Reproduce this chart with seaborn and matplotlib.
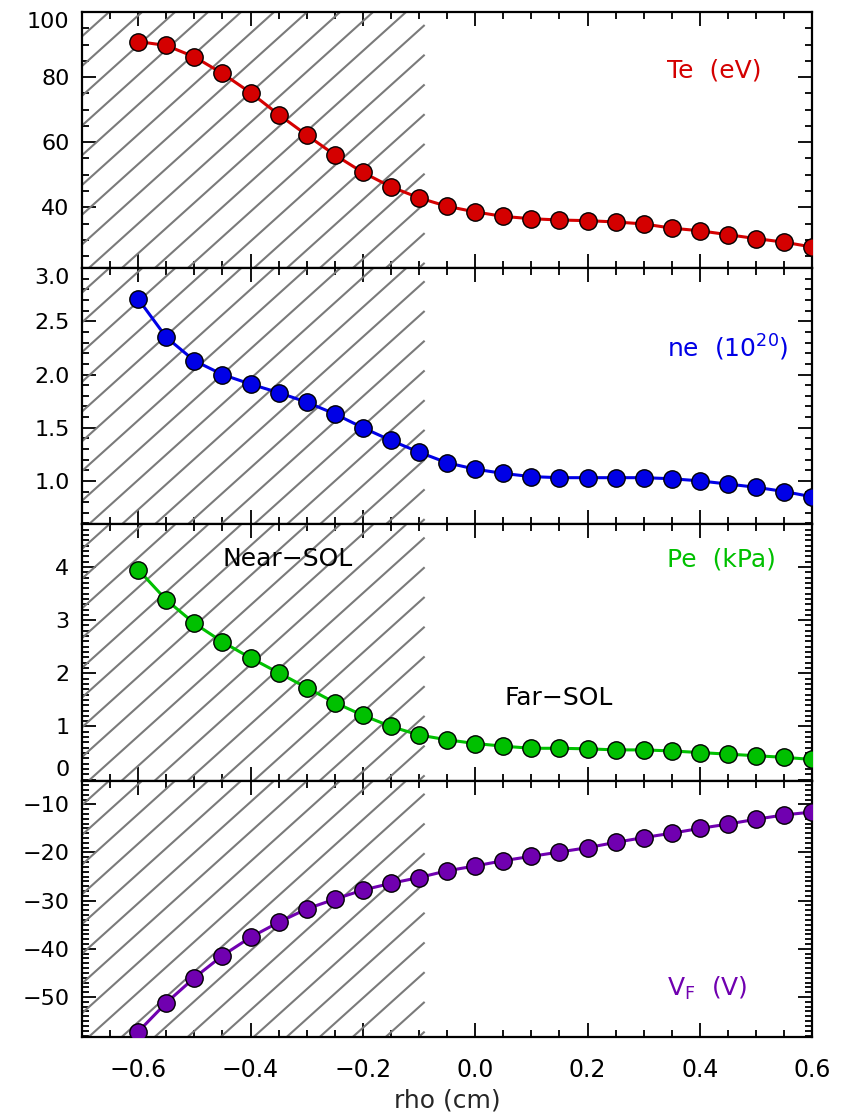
import numpy as np
import matplotlib
matplotlib.use("Agg")
import matplotlib.pyplot as plt
import seaborn as sns
from matplotlib.ticker import MultipleLocator

# data
rho = [-0.60, -0.55, -0.50, -0.45, -0.40, -0.35, -0.30, -0.25, -0.20, -0.15, -0.10,
       -0.05, 0.00, 0.05, 0.10, 0.15, 0.20, 0.25, 0.30, 0.35, 0.40, 0.45, 0.50, 0.55, 0.60]
te = [90.9, 89.7, 86.2, 81.1, 75.2, 68.5, 62.2, 56.1, 50.7, 46.3, 42.9,
      40.3, 38.6, 37.2, 36.5, 36.1, 35.9, 35.5, 34.9, 33.6, 32.8, 31.6, 30.4, 29.3, 27.8]
ne = [2.71, 2.35, 2.13, 2.00, 1.91, 1.83, 1.74, 1.63, 1.50, 1.38, 1.27,
      1.17, 1.11, 1.07, 1.04, 1.03, 1.03, 1.03, 1.03, 1.02, 1.00, 0.97, 0.94, 0.90, 0.85]
pe = [3.95, 3.38, 2.94, 2.59, 2.29, 2.01, 1.73, 1.45, 1.21, 1.00, 0.84,
      0.75, 0.68, 0.63, 0.59, 0.59, 0.58, 0.56, 0.56, 0.54, 0.51, 0.48, 0.45, 0.42, 0.38]
vf = [-57.2, -51.2, -46.0, -41.4, -37.6, -34.5, -31.7, -29.7, -27.8, -26.4, -25.2,
      -23.8, -22.8, -21.7, -20.8, -19.9, -19.0, -17.9, -16.9, -16.0, -15.0, -14.1, -13.1, -12.2, -11.6]

labels = ["Te  (eV)", "ne  (10$^{20}$)", "Pe  (kPa)", "V$_\\mathregular{F}$  (V)"]
colors = ["#d40000", "#0000e6", "#00c000", "#7000b0"]
ylims = [(21.3, 100), (0.59, 3.0), (-0.02, 4.8), (-58.3, -5.1)]
major = [20, 0.5, 1, 10]
minor = [5, 0.1, 0.1, 1]
label_y = [0.773, 0.689, 0.864, 0.191]
series = [te, ne, pe, vf]

# hatched near-SOL band
hatch_x = (-0.7, -0.09)

sns.set_theme(style="ticks")
plt.rcParams["font.family"] = ["DejaVu Sans"]
plt.rcParams["axes.linewidth"] = 1.6

fig, axes = plt.subplots(4, 1, figsize=(8.46, 11.16), dpi=100, sharex=True)
fig.subplots_adjust(left=0.097, right=0.96, top=0.9893, bottom=0.0708, hspace=0)

for i, ax in enumerate(axes):
    ymin, ymax = ylims[i]
    # hatch lines: ~42 deg in pixels, 33 px apart horizontally
    m = 0.9 * ((ymax - ymin) / 256) / (1.3 / 730)
    dx = 33 * 1.3 / 730
    xl, xr = hatch_x
    run = (ymax - ymin) / m
    for k in range(-40, 40):
        xs = xl + (k + 0.2) * dx
        a = max(xs, xl)
        b = min(xs + run, xr)
        if b <= a:
            continue
        ax.plot([a, b], [ymin + m * (a - xs), ymin + m * (b - xs)],
                color="#7a7a7a", lw=1.5, zorder=1, solid_capstyle="butt")

    sns.lineplot(x=rho, y=series[i], ax=ax, color=colors[i], lw=2.2, marker="o",
                 markersize=12.5, markeredgecolor="black", markeredgewidth=1.0, zorder=3)

    ax.set_xlim(-0.7, 0.6)
    ax.set_ylim(ymin, ymax)
    ax.yaxis.set_major_locator(MultipleLocator(major[i]))
    ax.yaxis.set_minor_locator(MultipleLocator(minor[i]))
    ax.xaxis.set_major_locator(MultipleLocator(0.2))
    ax.xaxis.set_minor_locator(MultipleLocator(0.05))
    ax.tick_params(which="both", direction="in", top=True, right=True, colors="black",
                   labelsize=16, width=1.3)
    ax.tick_params(which="major", length=10)
    ax.tick_params(which="minor", length=5)
    ax.tick_params(axis="y", pad=9)
    ax.tick_params(axis="x", pad=15, labelsize=17)
    ax.set_ylabel("")
    for s in ax.spines.values():
        s.set_color("black")

    ax.text(0.801, label_y[i], labels[i], transform=ax.transAxes, color=colors[i],
            fontsize=18, ha="left", va="center")

# nudge tick labels sitting on the panel edges
fig.canvas.draw()
for t in axes[0].get_yticklabels():
    if t.get_text() == "100":
        t.set_va("top")
for t in axes[1].get_yticklabels():
    if t.get_text() == "3.0":
        t.set_va("top")
for t in axes[2].get_yticklabels():
    if t.get_text() == "0":
        t.set_va("bottom")

axes[2].text(0.281, 0.864, "Near\u2212SOL", transform=axes[2].transAxes,
             fontsize=18, ha="center", va="center", color="black")
axes[2].text(0.653, 0.323, "Far\u2212SOL", transform=axes[2].transAxes,
             fontsize=18, ha="center", va="center", color="black")

axes[3].set_xlabel("rho (cm)", fontsize=18, labelpad=5)

fig.savefig("out.png", dpi=100)
